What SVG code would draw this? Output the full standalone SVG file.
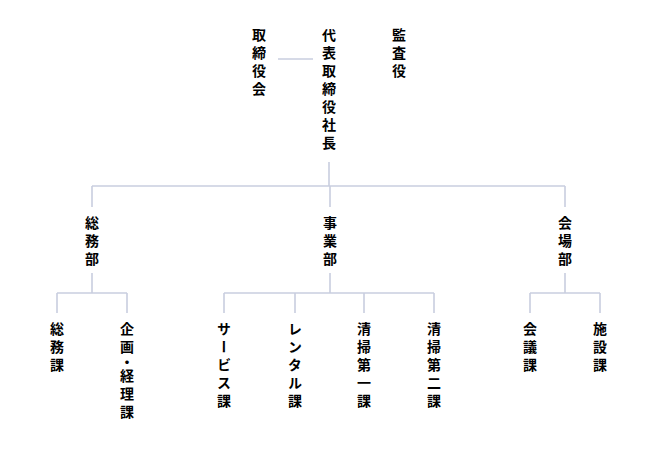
<svg xmlns="http://www.w3.org/2000/svg" width="658" height="464" viewBox="0 0 658 464">
<style>
.t{font-family:"Noto Sans CJK JP","Noto Sans CJK SC",sans-serif;font-size:14px;font-weight:bold;fill:#000;writing-mode:vertical-rl;letter-spacing:4px;}
.c{fill:none;stroke:#c9cedf;stroke-width:1.6;}
.n{letter-spacing:0.5px;}
</style>
<rect width="658" height="464" fill="#fff"/>
<g id="connectors" class="c">
<path d="M278 59H313"/>
<path d="M329 162V186M92 186H565M92 186V207M330 186V207M565 186V207"/>
<path d="M92 273V293M57 293H127M57 293V313M127 293V313"/>
<path d="M330 273V293M224 293H434M224 293V313M295 293V313M364 293V313M434 293V313"/>
<path d="M565 273V293M530 293H600M530 293V313M600 293V313"/>
</g>
<g id="n-torishimariyakukai"><text class="t" x="259" y="28">取締役会</text></g>
<g id="n-daihyo"><text class="t" x="329" y="28">代表取締役社長</text></g>
<g id="n-kansayaku"><text class="t" x="399" y="28">監査役</text></g>
<g id="n-somubu"><text class="t" x="92" y="216">総務部</text></g>
<g id="n-jigyobu"><text class="t" x="330" y="216">事業部</text></g>
<g id="n-kaijobu"><text class="t" x="565" y="216">会場部</text></g>
<g id="n-somuka"><text class="t" x="57" y="322">総務課</text></g>
<g id="n-kikaku"><text class="t" x="127" y="322">企<tspan class="n">画・</tspan>経理課</text></g>
<g id="n-service"><text class="t" x="224" y="322">サービス課</text></g>
<g id="n-rental"><text class="t" x="295" y="322">レンタル課</text></g>
<g id="n-seiso1"><text class="t" x="364" y="322">清掃第一課</text></g>
<g id="n-seiso2"><text class="t" x="434" y="322">清掃第二課</text></g>
<g id="n-kaigi"><text class="t" x="530" y="322">会議課</text></g>
<g id="n-shisetsu"><text class="t" x="600" y="322">施設課</text></g>
</svg>
